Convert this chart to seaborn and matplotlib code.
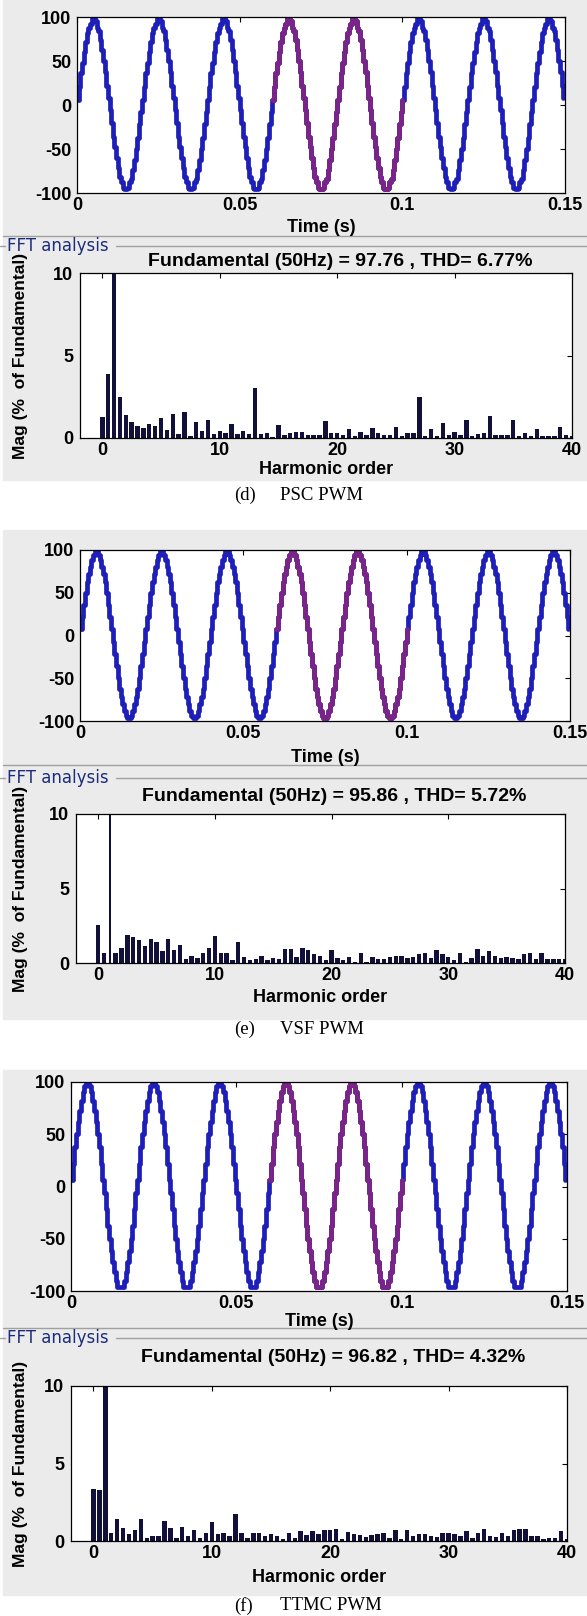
import numpy as np
import pandas as pd
import matplotlib
matplotlib.use("Agg")
import matplotlib.pyplot as plt
from matplotlib.patches import Rectangle
from matplotlib.lines import Line2D
import seaborn as sns

W, H = 587, 1616

# one 20 ms period of the stepped inverter voltage, sampled every 0.5 ms
STEP = 0.0005
wave_psc = [6, 20, 36, 48, 60, 72, 82, 88, 92, 100, 100, 96, 88, 84, 74, 62, 50, 38, 22, 8,
            -6, -20, -36, -48, -60, -72, -82, -88, -94, -96, -96, -94, -88, -84, -74, -62, -50, -38, -22, -8]
wave_vsf = [8, 22, 36, 50, 62, 72, 80, 88, 94, 100, 100, 94, 88, 80, 72, 62, 50, 36, 22, 8,
            -8, -22, -36, -50, -62, -72, -80, -88, -94, -96, -96, -94, -88, -80, -72, -62, -50, -36, -22, -8]
wave_ttmc = [6, 22, 38, 50, 62, 72, 82, 90, 96, 100, 100, 96, 90, 82, 72, 62, 50, 38, 22, 6,
             -6, -22, -38, -50, -62, -72, -82, -90, -96, -96, -96, -96, -90, -82, -72, -62, -50, -38, -22, -6]

# FFT window highlighted on the waveform
window = (0.06, 0.10)

# harmonic order of each FFT bar (0 .. 40, half-order resolution)
harmonic_order = np.arange(0, 40.5, 0.5)

# magnitudes in % of fundamental (fundamental itself = 100, clipped by the axis)
mag_psc = [1.3, 3.9, 100, 2.5, 1.4, 0.95, 0.7, 0.6, 0.85, 0.7,
           1.2, 0.5, 1.45, 0.25, 1.55, 0.15, 0.95, 0.45, 1.1, 0.25,
           0.45, 0.3, 0.85, 0.25, 0.45, 0.25, 3.05, 0.25, 0.3, 0.08,
           0.8, 0.17, 0.32, 0.37, 0.37, 0.19, 0.19, 0.19, 1.05, 0.3,
           0.32, 0.19, 0.55, 0.1, 0.37, 0.19, 0.62, 0.3, 0.19, 0.19,
           0.65, 0.1, 0.28, 0.28, 2.5, 0.1, 0.55, 0.1, 0.88, 0.19,
           0.34, 0.19, 1.07, 0.1, 0.24, 0.3, 1.33, 0.19, 0.19, 0.19,
           1.07, 0.1, 0.3, 0.1, 0.55, 0.1, 0.1, 0.1, 0.65, 0.2,
           0.1]
mag_vsf = [2.56, 0.64, 100, 0.64, 0.98, 1.89, 1.73, 1.56, 1.11, 1.64,
           1.38, 0.82, 1.64, 0.84, 1.18, 0.29, 0.44, 0.36, 0.64, 1.0,
           1.82, 0.64, 0.64, 0.18, 1.44, 0.38, 0.2, 0.29, 0.44, 0.2,
           0.36, 0.29, 0.93, 0.93, 0.4, 1.04, 0.87, 0.6, 0.5, 0.22,
           0.87, 0.33, 0.2, 0.42, 0.1, 0.67, 0.09, 0.42, 0.24, 0.24,
           0.37, 0.44, 0.49, 0.33, 0.42, 0.6, 0.67, 0.31, 0.87, 0.6,
           0.37, 0.2, 0.67, 0.09, 0.33, 0.97, 0.49, 0.78, 0.49, 0.31,
           0.42, 0.35, 0.25, 0.6, 0.65, 0.3, 0.65, 0.25, 0.3, 0.3,
           0.3]
mag_ttmc = [3.38, 3.27, 100, 0.5, 1.41, 0.81, 0.42, 0.7, 1.41, 0.22,
            0.31, 0.31, 1.3, 0.81, 0.22, 0.92, 0.31, 0.7, 0.22, 0.5,
            1.21, 0.42, 0.5, 0.31, 1.71, 0.5, 0.22, 0.5, 0.5, 0.31,
            0.42, 0.31, 0.12, 0.5, 0.2, 0.62, 0.4, 0.65, 0.45, 0.72,
            0.7, 0.8, 0.1, 0.55, 0.45, 0.4, 0.25, 0.4, 0.45, 0.5,
            0.2, 0.7, 0.1, 0.7, 0.35, 0.45, 0.45, 0.35, 0.25, 0.5,
            0.5, 0.45, 0.35, 0.62, 0.2, 0.5, 0.8, 0.3, 0.25, 0.5,
            0.3, 0.7, 0.75, 0.75, 0.35, 0.35, 0.15, 0.2, 0.2, 0.65,
            0.1]

fundamental_text = ["Fundamental (50Hz) = 97.76 , THD= 6.77%",
                    "Fundamental (50Hz) = 95.86 , THD= 5.72%",
                    "Fundamental (50Hz) = 96.82 , THD= 4.32%"]
caption_tag = ["(d)", "(e)", "(f)"]
caption_name = ["PSC PWM", "VSF PWM", "TTMC PWM"]

BLUE = "#1e1eb8"
PURPLE = "#7a2488"
NAVY = "#10103a"
PANEL = "#ebebeb"
FFT_BLUE = "#1e2c7c"


def fx(x):
    return x / W


def fy(y):
    return 1 - y / H


def px_rect(left, right, top, bottom):
    return [left / W, 1 - bottom / H, (right - left) / W, (bottom - top) / H]


def style_axes(ax, pad_x=3, pad_y=4):
    for sp in ax.spines.values():
        sp.set_color("black")
        sp.set_linewidth(0.9)
    ax.tick_params(direction="in", top=True, right=True, length=3.5, width=0.8,
                   labelsize=13, colors="black")
    ax.tick_params(axis="x", pad=pad_x)
    ax.tick_params(axis="y", pad=pad_y)
    ax.set_xlabel("")
    ax.set_ylabel("")


def draw_wave(ax, period):
    # seven and a half cycles over 0.15 s
    samples = np.tile(period, 8)[: len(period) * 15 // 2]
    df = pd.DataFrame({"t": np.arange(len(samples)) * STEP, "v": samples})
    sns.lineplot(data=df, x="t", y="v", color=BLUE, lw=3.4, drawstyle="steps-post",
                 estimator=None, errorbar=None, ax=ax)
    win = df[(df["t"] >= window[0]) & (df["t"] <= window[1])]
    sns.lineplot(data=win, x="t", y="v", color=PURPLE, lw=3.4, drawstyle="steps-post",
                 estimator=None, errorbar=None, ax=ax)
    ax.set_xlim(0, 0.15)
    ax.set_ylim(-100, 100)
    ax.set_xticks([0, 0.05, 0.1, 0.15], ["0", "0.05", "0.1", "0.15"])
    ax.set_yticks([-100, -50, 0, 50, 100])
    style_axes(ax)


def draw_fft(ax, mags, thin_fundamental=False):
    df = pd.DataFrame({"order": harmonic_order, "mag": mags})
    sns.barplot(data=df, x="order", y="mag", native_scale=True, color=NAVY,
                saturation=1, width=0.75, linewidth=0, errorbar=None, ax=ax)
    if thin_fundamental:
        for p in ax.patches:
            if abs(p.get_x() + p.get_width() / 2 - 1) < 1e-6:
                p.set_x(1 - 0.07)
                p.set_width(0.14)
    ax.set_xlim(-1.9, 40)
    ax.set_ylim(0, 10)
    ax.set_xticks([0, 10, 20, 30, 40])
    ax.set_yticks([0, 5, 10])
    style_axes(ax, pad_y=5)


def main():
    sns.set_style("white")
    plt.rcParams["font.family"] = ["Liberation Sans", "DejaVu Sans"]
    plt.rcParams["font.weight"] = "bold"
    plt.rcParams["axes.unicode_minus"] = False
    plt.rcParams["text.color"] = "black"
    plt.rcParams["xtick.color"] = "black"
    plt.rcParams["ytick.color"] = "black"

    fig = plt.figure(figsize=(W / 100, H / 100), dpi=100)
    fig.patch.set_facecolor("white")

    # grey simulink panels behind each case
    for top, bottom in [(0, 480), (530, 1019), (1070, 1595)]:
        fig.patches.append(Rectangle((fx(3), fy(bottom)), fx(W - 3), (bottom - top) / H,
                                     transform=fig.transFigure, color=PANEL, zorder=-5))

    layouts = [
        dict(wave=(77, 565, 17, 193), fft=(80, 572, 273, 438), time=228, sep=236,
             fft_lbl=246, title=262, harm=470, cap=495),
        dict(wave=(80, 570, 550, 721), fft=(76, 565, 814, 963), time=757, sep=765,
             fft_lbl=778, title=797, harm=998, cap=1029),
        dict(wave=(71, 567, 1082, 1291), fft=(71, 567, 1386, 1541), time=1321, sep=1328,
             fft_lbl=1338, title=1358, harm=1577, cap=1606),
    ]
    waves = [wave_psc, wave_vsf, wave_ttmc]
    mags = [mag_psc, mag_vsf, mag_ttmc]

    for i, lay in enumerate(layouts):
        ax_w = fig.add_axes(px_rect(*lay["wave"]))
        draw_wave(ax_w, waves[i])
        ax_f = fig.add_axes(px_rect(*lay["fft"]))
        draw_fft(ax_f, mags[i], thin_fundamental=(i == 1))

        wl, wr = lay["wave"][0], lay["wave"][1]
        fl, fr = lay["fft"][0], lay["fft"][1]
        fig.text(fx((wl + wr) / 2), fy(lay["time"]), "Time (s)", ha="center", va="center",
                 fontsize=13, fontweight="bold")
        fig.text(fx((fl + fr) / 2), fy(lay["harm"]), "Harmonic order", ha="center", va="center",
                 fontsize=13, fontweight="bold")
        fig.text(fx((fl + fr) / 2 + 14), fy(lay["title"]), fundamental_text[i], ha="center",
                 va="center", fontsize=14, fontweight="bold")
        fig.text(fx(21), fy((lay["fft"][2] + lay["fft"][3]) / 2), "Mag (%  of Fundamental)",
                 rotation=90, ha="center", va="center", fontsize=12.5, fontweight="bold")

        # panel separator and the "FFT analysis" frame line
        fig.add_artist(Line2D([fx(3), 1], [fy(lay["sep"])] * 2, color="#a0a0a0", lw=1))
        fig.add_artist(Line2D([0, fx(5)], [fy(lay["fft_lbl"])] * 2, color="#a0a0a0", lw=1))
        fig.add_artist(Line2D([fx(116), 1], [fy(lay["fft_lbl"])] * 2, color="#a0a0a0", lw=1))
        fig.text(fx(7), fy(lay["fft_lbl"]), "FFT analysis", ha="left", va="center",
                 fontsize=12, fontweight="normal", color=FFT_BLUE, family="DejaVu Sans")

        fig.text(fx(234), fy(lay["cap"]), caption_tag[i], ha="left", va="center",
                 fontsize=13.5, fontweight="normal", family="Liberation Serif")
        fig.text(fx(280), fy(lay["cap"]), caption_name[i], ha="left", va="center",
                 fontsize=13.5, fontweight="normal", family="Liberation Serif")

    fig.savefig("out.png", dpi=100)


if __name__ == "__main__":
    main()
